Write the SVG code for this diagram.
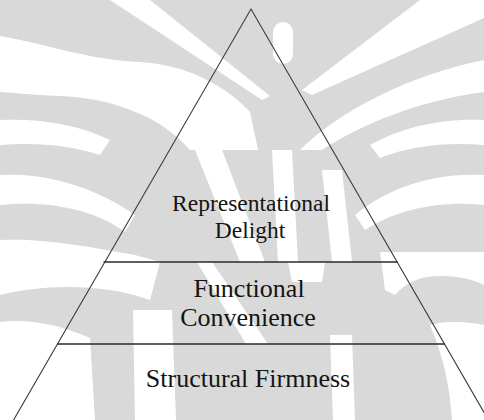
<svg xmlns="http://www.w3.org/2000/svg" width="484" height="420" viewBox="0 0 484 420">
  <style>
    .wm { fill: #d9d9d9; stroke: none; }
    .wh { fill: #ffffff; stroke: none; }
    .edge { fill: none; stroke: #3a3a3a; stroke-width: 1.1; }
    .divider { fill: none; stroke: #2a2a2a; stroke-width: 1.4; }
    .label { font-family: "Liberation Serif", "Times New Roman", serif; fill: #141414; text-anchor: middle; }
  </style>
  <g id="watermark">
    <rect class="wm" width="484" height="420"/>
    <!-- top rays -->
    <path class="wh" d="M110,0 L150,0 L270,96 L262,100 Z"/>
    <path class="wh" d="M0,36 C50,45 90,60 140,62 C190,65 228,88 250,112 L258,150 L190,150 C160,115 110,98 60,96 C30,95 10,92 0,92 Z"/>
    <path class="wh" d="M420,0 L484,0 L484,18 L312,95 L302,90 Z"/>
    <path class="wh" d="M484,60 L484,92 C420,100 360,125 322,150 L300,150 C340,110 410,75 484,60 Z"/>
    <rect class="wh" x="273" y="22" width="20" height="42" rx="10"/>
    <!-- left side bands -->
    <path class="wh" d="M0,120 C40,118 80,125 110,140 L100,155 C70,145 35,142 0,145 Z"/>
    <path class="wh" d="M0,175 C50,172 100,190 135,215 L125,232 C95,210 50,200 0,205 Z"/>
    <path class="wh" d="M0,240 C40,238 80,245 135,255 L160,262 L150,300 C100,282 40,285 0,295 Z"/>
    <path class="wh" d="M0,322 C30,318 60,325 90,338 L95,420 L0,420 Z"/>
    <!-- right side bands -->
    <path class="wh" d="M484,120 C440,118 400,128 370,145 L380,158 C410,146 445,142 484,145 Z"/>
    <path class="wh" d="M484,175 C430,172 385,190 355,215 L365,230 C395,210 440,200 484,205 Z"/>
    <path class="wh" d="M380,252 L484,252 L484,285 C470,278 455,276 440,276 C420,276 405,283 395,295 L385,290 Z"/>
    <path class="wh" d="M430,325 C445,320 470,322 484,325 L484,420 L452,420 C450,390 445,360 430,325 Z"/>
    <!-- centre rays -->
    <path class="wh" d="M195,150 L222,150 L265,262 L240,262 Z"/>
    <path class="wh" d="M272,150 L292,150 L298,262 L278,262 Z"/>
    <path class="wh" d="M322,170 L342,170 L352,262 L332,262 Z"/>
    <path class="wh" d="M197,262 L212,262 L268,344 L246,344 Z"/>
    <path class="wh" d="M288,262 L325,262 L322,282 L292,282 Z"/>
    <!-- bottom gaps -->
    <path class="wh" d="M133,310 L172,310 L176,420 L135,420 Z"/>
    <path class="wh" d="M330,335 L352,335 L355,420 L333,420 Z"/>
  </g>
  <g id="pyramid">
    <polyline class="edge" points="13,421 251,9 489,421"/>
  </g>
  <g id="connectors">
    <line class="divider" x1="103.5" y1="262" x2="397.5" y2="262"/>
    <line class="divider" x1="57" y1="344" x2="445" y2="344"/>
  </g>
  <g id="tier-representational-delight">
    <text class="label" x="251" y="211" font-size="23.5">Representational</text>
    <text class="label" x="250" y="238" font-size="23.5">Delight</text>
  </g>
  <g id="tier-functional-convenience">
    <text class="label" x="249" y="297" font-size="26">Functional</text>
    <text class="label" x="248" y="326" font-size="26">Convenience</text>
  </g>
  <g id="tier-structural-firmness">
    <text class="label" x="248" y="387" font-size="26">Structural Firmness</text>
  </g>
</svg>
